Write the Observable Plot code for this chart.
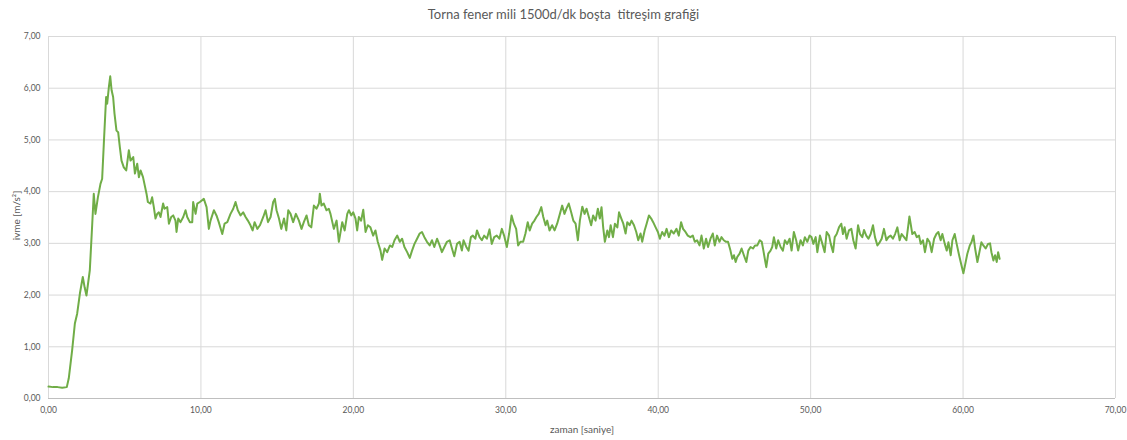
<!DOCTYPE html>
<html><head><meta charset="utf-8">
<script src="https://cdn.jsdelivr.net/npm/d3@7"></script>
<script src="https://cdn.jsdelivr.net/npm/@observablehq/plot@0.6"></script>
<style>
body{margin:0;background:#fff;font-family:Lato,"Open Sans",sans-serif;}
#title{height:28px;line-height:28px;text-align:center;font-size:13px;color:#595959;width:1127px;white-space:pre;}
</style></head><body>
<div id="title">Torna fener mili 1500d/dk boşta  titreşim grafiği</div>
<div id="chart"></div>
<script>
const titleText = "Torna fener mili 1500d/dk boşta  titreşim grafiği";
const xLabel = "zaman [saniye]";
const yLabel = "ivme [m/s²]";
const xTicks = [0,10,20,30,40,50,60,70];
const yTicks = [0,1,2,3,4,5,6,7];
const zaman = [0.00,0.30,0.60,0.90,1.20,1.33,1.55,1.73,1.88,2.06,2.25,2.37,2.49,2.71,2.87,2.97,3.08,3.24,3.41,3.52,3.63,3.78,3.85,3.96,4.05,4.14,4.24,4.33,4.46,4.57,4.68,4.79,4.94,5.10,5.27,5.38,5.56,5.67,5.82,5.93,6.04,6.20,6.43,6.52,6.69,6.80,6.91,7.02,7.13,7.24,7.35,7.52,7.61,7.79,7.90,8.05,8.18,8.33,8.40,8.51,8.66,8.84,8.99,9.10,9.27,9.43,9.49,9.65,9.76,9.93,
10.19,10.37,10.52,10.63,10.85,11.02,11.17,11.40,11.55,11.73,11.94,12.12,12.27,12.42,12.60,12.77,12.93,13.08,13.25,13.39,13.52,13.70,13.87,14.09,14.24,14.40,14.57,14.74,14.85,14.96,15.12,15.27,15.45,15.60,15.73,15.88,16.05,16.23,16.43,16.60,16.75,16.93,17.08,17.24,17.41,17.58,17.74,17.80,17.91,18.06,18.24,18.39,
18.50,18.72,18.90,19.05,19.27,19.43,19.60,19.71,19.86,19.99,20.14,20.25,20.36,20.51,20.65,20.80,20.95,21.12,21.30,21.45,21.60,21.78,21.89,22.05,22.22,22.40,22.55,22.70,22.88,23.05,23.20,23.35,23.53,23.70,23.85,24.01,24.18,24.35,24.50,24.66,24.83,25.01,25.16,25.31,25.49,25.66,25.81,25.97,26.14,26.32,26.47,26.62,26.80,26.97,27.12,27.23,27.41,27.56,27.71,27.84,28.00,28.11,28.28,28.43,28.58,28.76,28.93,29.08,29.24,29.41,29.58,29.74,29.89,30.07,30.22,30.38,30.53,30.68,30.81,30.96,31.14,31.29,31.44,31.57,31.73,31.88,32.01,32.16,32.33,32.46,32.61,32.72,32.87,33.04,33.20,33.37,33.55,33.70,33.85,33.98,34.13,34.29,
34.43,34.58,34.73,34.86,35.02,35.17,35.30,35.45,35.60,35.73,35.89,36.04,36.17,36.28,36.39,36.50,36.66,36.77,36.88,37.03,37.16,37.32,37.43,37.58,37.71,37.86,37.97,38.12,38.25,38.41,38.56,38.69,38.84,38.95,39.11,39.24,39.39,39.54,39.67,39.83,39.98,40.11,40.26,40.41,40.55,40.70,40.85,41.02,41.20,41.35,41.50,41.63,41.79,41.94,42.11,42.27,42.40,42.55,42.71,42.84,42.99,43.14,43.27,43.43,43.58,43.71,43.86,44.02,44.15,44.30,44.45,44.58,44.74,44.86,44.97,45.08,45.19,45.34,45.47,45.62,45.78,45.91,46.06,46.22,46.35,46.50,46.66,46.79,46.90,47.01,47.09,47.22,47.37,47.48,47.59,47.74,47.87,48.03,48.18,48.31,48.46,48.62,48.75,48.90,49.05,49.18,49.34,49.49,49.62,49.78,49.93,
50.06,50.18,50.33,50.44,50.61,50.77,50.92,51.05,51.21,51.32,51.47,51.58,51.71,51.86,52.01,52.12,52.23,52.36,52.51,52.67,52.80,52.95,53.11,53.24,53.39,53.50,53.65,53.79,53.94,54.09,54.22,54.38,54.53,54.66,54.81,54.97,55.10,55.25,55.40,55.54,55.69,55.84,55.97,56.13,56.28,56.39,56.48,56.56,56.67,56.82,56.96,57.11,57.22,57.37,57.50,57.66,57.81,57.94,58.10,58.25,58.38,58.53,58.64,58.80,58.93,59.04,59.19,59.30,59.45,59.58,59.74,59.89,60.02,60.13,60.28,60.44,60.55,60.68,60.79,60.94,61.05,61.20,61.33,61.48,61.64,61.77,61.86,61.99,62.10,62.21,62.30,62.40];
const ivme = [0.23,0.22,0.22,0.21,0.22,0.39,0.93,1.45,1.64,2.03,2.35,2.15,1.99,2.48,3.38,3.96,3.57,3.89,4.15,4.25,4.93,5.83,5.70,6.02,6.23,5.96,5.83,5.51,5.18,5.15,4.86,4.60,4.47,4.41,4.80,4.60,4.67,4.35,4.54,4.28,4.41,4.28,3.96,3.80,3.77,3.89,3.70,3.48,3.57,3.60,3.51,3.77,3.67,3.70,3.38,3.51,3.54,3.44,3.22,3.48,3.41,3.51,3.64,3.51,3.41,3.41,3.80,3.57,3.77,3.80,
3.86,3.70,3.28,3.44,3.64,3.54,3.41,3.18,3.38,3.41,3.57,3.67,3.80,3.64,3.54,3.60,3.51,3.44,3.35,3.25,3.41,3.28,3.35,3.51,3.64,3.41,3.51,3.80,3.86,3.64,3.48,3.28,3.48,3.25,3.64,3.57,3.41,3.57,3.44,3.28,3.41,3.54,3.35,3.31,3.73,3.67,3.77,3.96,3.73,3.77,3.64,3.67,
3.57,3.28,3.44,3.03,3.41,3.25,3.57,3.64,3.54,3.60,3.48,3.25,3.51,3.44,3.65,3.22,3.35,3.31,3.15,3.25,3.03,2.86,2.68,2.90,2.83,2.96,2.93,3.06,3.15,3.03,3.09,2.93,2.83,2.72,2.86,2.99,3.09,3.19,3.22,3.12,3.03,2.96,3.06,2.93,3.09,2.96,2.83,2.93,3.03,3.06,2.90,2.75,2.99,3.03,2.86,3.06,2.93,2.86,3.12,3.15,3.09,3.25,3.12,3.06,3.15,3.09,3.27,2.99,3.12,3.15,3.09,3.28,3.15,2.93,3.19,3.54,3.38,3.28,2.96,3.03,3.03,3.19,3.41,3.25,3.38,3.44,3.51,3.57,3.70,3.51,3.35,3.44,3.25,3.35,3.25,3.38,3.57,3.73,3.57,3.67,3.77,3.60,
3.44,3.38,3.06,3.44,3.71,3.57,3.67,3.51,3.35,3.54,3.44,3.67,3.48,3.70,3.31,3.03,3.25,3.12,3.35,3.12,3.38,3.31,3.60,3.48,3.38,3.19,3.41,3.35,3.44,3.35,3.22,3.06,3.19,3.03,3.25,3.38,3.54,3.48,3.41,3.31,3.22,3.09,3.22,3.15,3.28,3.12,3.25,3.19,3.28,3.15,3.41,3.28,3.22,3.15,3.12,3.15,3.03,3.06,2.96,3.15,2.90,3.09,2.93,3.09,3.19,2.96,3.15,3.03,3.12,3.06,3.03,3.03,2.86,2.70,2.77,2.64,2.74,2.80,2.90,2.77,2.64,2.86,2.93,2.90,2.96,2.96,3.06,3.03,2.86,2.67,2.54,2.80,2.86,2.93,3.12,2.90,3.06,2.93,2.86,3.06,2.99,3.09,2.86,3.22,3.06,2.86,3.06,2.96,3.12,3.03,3.15,
3.12,2.99,3.12,2.83,3.15,2.99,2.83,3.22,3.15,2.99,2.83,3.12,3.18,3.31,3.38,3.18,3.31,3.09,3.25,3.28,3.06,2.90,3.35,3.18,3.12,3.26,3.15,3.09,3.18,3.35,3.12,2.96,3.02,3.09,3.28,3.06,3.12,3.15,3.09,3.18,3.31,3.06,3.18,3.12,3.06,3.31,3.52,3.38,3.18,3.22,3.12,3.15,2.99,3.06,2.83,3.09,3.02,2.83,3.09,3.18,3.22,3.06,3.18,2.99,2.86,3.02,2.77,3.06,3.18,2.99,2.77,2.58,2.42,2.58,2.80,2.96,3.02,3.15,2.90,2.64,2.80,3.02,2.96,2.90,2.99,3.00,2.83,2.67,2.77,2.64,2.83,2.70];

document.getElementById("title").textContent = titleText;
const data = zaman.map((t, i) => ({t, v: ivme[i]}));
const fmt = d => d.toFixed(2).replace(".", ",");
const chart = Plot.plot({
  width: 1127, height: 412,
  marginTop: 8, marginBottom: 42, marginLeft: 48, marginRight: 12,
  style: {fontFamily: "Lato, 'Open Sans', sans-serif", fontSize: "8.5px", color: "#595959", background: "#fff", overflow: "visible"},
  x: {domain: [0, 70]},
  y: {domain: [0, 7]},
  marks: [
    Plot.gridY(yTicks, {stroke: "#d9d9d9", strokeOpacity: 1}),
    Plot.gridX(xTicks, {stroke: "#d9d9d9", strokeOpacity: 1}),
    Plot.ruleY([0], {stroke: "#bfbfbf"}),
    Plot.axisX(xTicks, {tickSize: 0, tickPadding: 8, tickFormat: fmt, label: null}),
    Plot.axisY(yTicks, {tickSize: 0, tickPadding: 8, tickFormat: fmt, label: null}),
    Plot.line(data, {x: "t", y: "v", stroke: "#70ad47", strokeWidth: 2}),
    Plot.text([xLabel], {frameAnchor: "bottom", dy: 31, lineAnchor: "middle", textAnchor: "middle", fontSize: 10, text: d => d}),
    Plot.text([yLabel], {frameAnchor: "left", dx: -32, dy: -2, rotate: -90, textAnchor: "middle", lineAnchor: "middle", fontSize: 10, text: d => d})
  ]
});
document.getElementById("chart").appendChild(chart);
</script>
</body></html>
